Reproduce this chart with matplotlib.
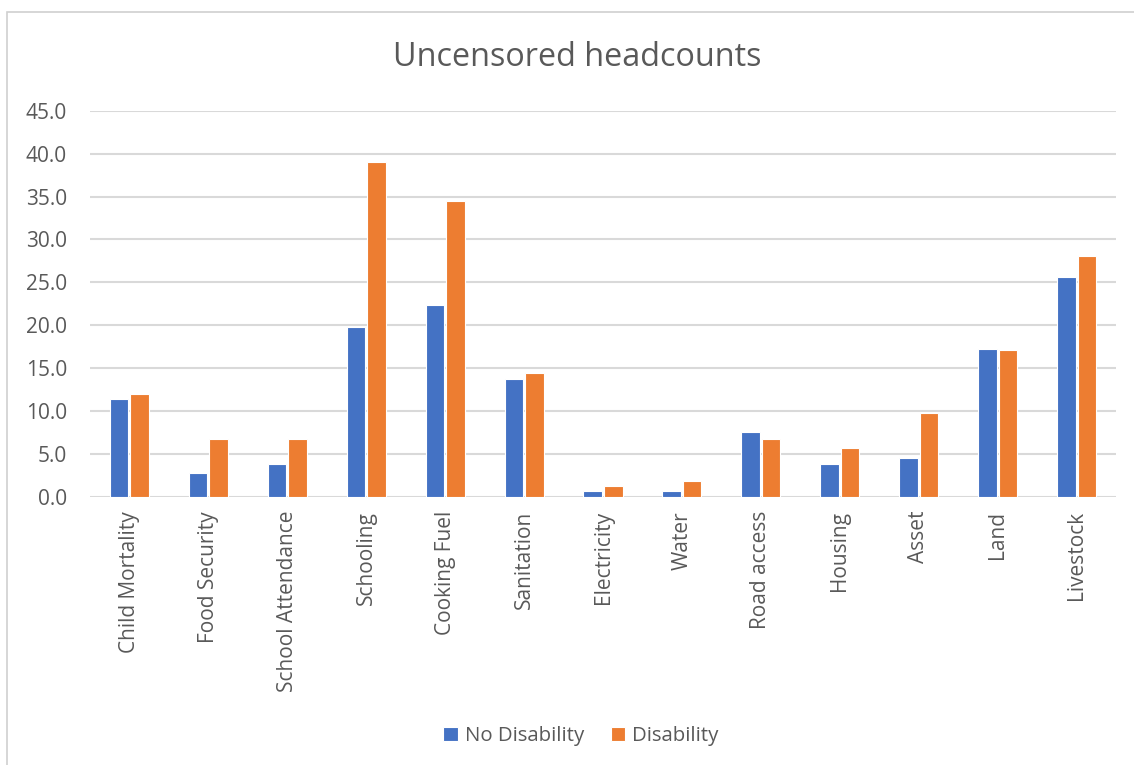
import matplotlib
matplotlib.use("Agg")
import matplotlib.pyplot as plt
import numpy as np
from matplotlib.patches import Rectangle

plt.rcParams['font.family'] = ['Open Sans', 'DejaVu Sans']

categories = ["Child Mortality", "Food Security", "School Attendance", "Schooling",
              "Cooking Fuel", "Sanitation", "Electricity", "Water", "Road access",
              "Housing", "Asset", "Land", "Livestock"]
no_disability = [11.4, 2.8, 3.9, 19.8, 22.4, 13.7, 0.7, 0.7, 7.6, 3.8, 4.5, 17.2, 25.6]
disability = [12.0, 6.8, 6.7, 39.0, 34.5, 14.4, 1.3, 1.9, 6.7, 5.7, 9.8, 17.1, 28.1]
yticks = [0, 5, 10, 15, 20, 25, 30, 35, 40, 45]

BLUE = "#4472C4"
ORANGE = "#ED7D31"
TEXT = "#595959"
GRID = "#D9D9D9"

fig = plt.figure(figsize=(11.34, 7.65), dpi=100)
fig.patch.set_facecolor("white")

# outer chart frame
fig.patches.append(Rectangle((7 / 1134, -0.01), 1.2, 1 - 12 / 765 + 0.01,
                             transform=fig.transFigure, fill=False,
                             edgecolor="#D0D0D0", linewidth=1.2))

ax = fig.add_axes([90 / 1134, 1 - 497 / 765, (1116 - 90) / 1134, (497 - 110.7) / 765])

x = np.arange(len(categories))
w = 0.235
off = 0.13
ax.bar(x - off, no_disability, width=w, color=BLUE, edgecolor="white",
       linewidth=0.8, label="No Disability", zorder=3)
ax.bar(x + off, disability, width=w, color=ORANGE, edgecolor="white",
       linewidth=0.8, label="Disability", zorder=3)

ax.set_xlim(-0.5, len(categories) - 0.5)
ax.set_ylim(0, 45)
ax.set_yticks(yticks)
ax.set_yticklabels([f"{v:.1f}" for v in yticks], fontsize=15, color=TEXT)
ax.set_xticks(x)
ax.set_xticklabels(categories, rotation=90, fontsize=15, color=TEXT)
ax.tick_params(axis="both", length=0)
ax.tick_params(axis="y", pad=16.5)
ax.tick_params(axis="x", pad=10)
ax.grid(axis="y", color=GRID, linewidth=1.5, zorder=0)
for s in ax.spines.values():
    s.set_visible(False)
ax.set_axisbelow(True)

fig.text(577 / 1134, 1 - 57 / 765, "Uncensored headcounts", ha="center", va="center",
         fontsize=23.3, color=TEXT)

handles, labels = ax.get_legend_handles_labels()
leg = fig.legend(handles, labels, loc="center", bbox_to_anchor=(581 / 1134, 1 - 736 / 765),
                 ncol=2, frameon=False, fontsize=14.7, handlelength=0.7, handleheight=0.7,
                 handletextpad=0.35, columnspacing=1.3)
for t in leg.get_texts():
    t.set_color(TEXT)

fig.savefig("out.png", dpi=100, facecolor="white")
